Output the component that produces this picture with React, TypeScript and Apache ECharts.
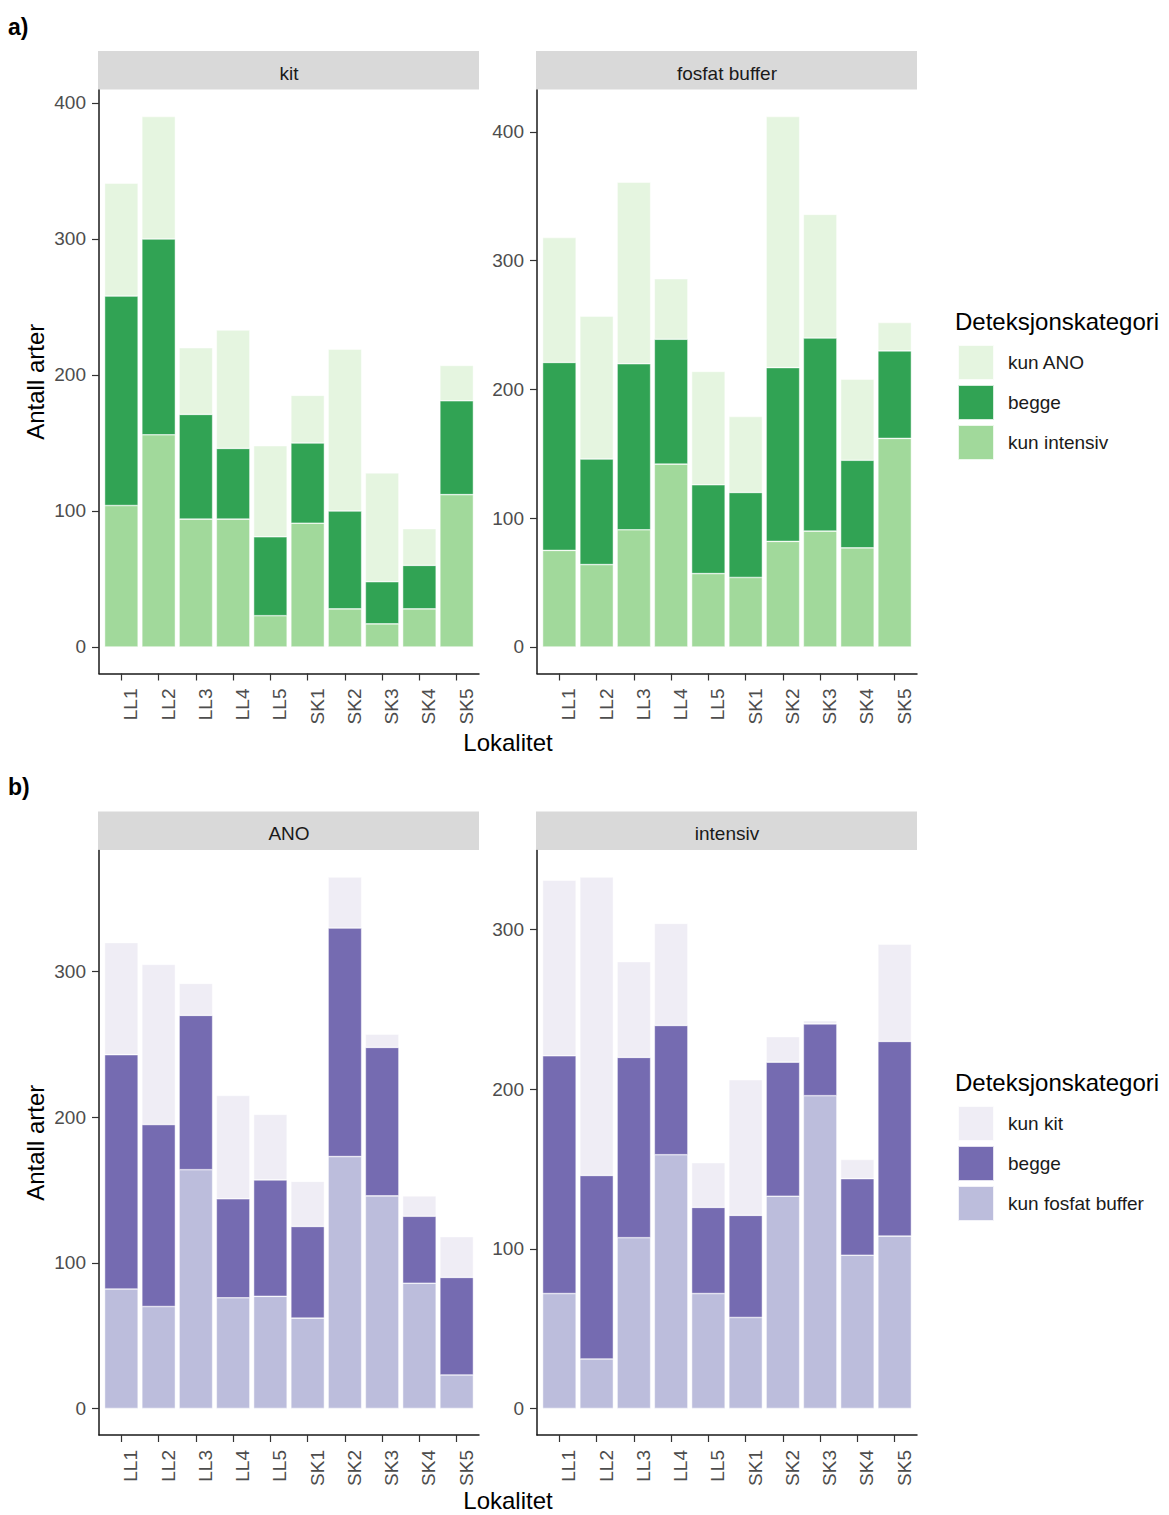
import React, { useEffect, useRef } from "react";
import * as echarts from "echarts";

// Sampling sites (x categories), shared by all four panels
const locations = ["LL1", "LL2", "LL3", "LL4", "LL5", "SK1", "SK2", "SK3", "SK4", "SK5"];

// a) kit panel
const kitKunIntensiv = [104, 156, 94, 94, 23, 91, 28, 17, 28, 112];
const kitBegge = [154, 144, 77, 52, 58, 59, 72, 31, 32, 69];
const kitKunAno = [83, 90, 49, 87, 67, 35, 119, 80, 27, 26];

// a) fosfat buffer panel
const fosfatKunIntensiv = [75, 64, 91, 142, 57, 54, 82, 90, 77, 162];
const fosfatBegge = [146, 82, 129, 97, 69, 66, 135, 150, 68, 68];
const fosfatKunAno = [97, 111, 141, 47, 88, 59, 195, 96, 63, 22];

// b) ANO panel
const anoKunFosfat = [82, 70, 164, 76, 77, 62, 173, 146, 86, 23];
const anoBegge = [161, 125, 106, 68, 80, 63, 157, 102, 46, 67];
const anoKunKit = [77, 110, 22, 71, 45, 31, 35, 9, 14, 28];

// b) intensiv panel
const intensivKunFosfat = [72, 31, 107, 159, 72, 57, 133, 196, 96, 108];
const intensivBegge = [149, 115, 113, 81, 54, 64, 84, 45, 48, 122];
const intensivKunKit = [110, 187, 60, 64, 28, 85, 16, 2, 12, 61];

// y tick labels
const yTicksA = [0, 100, 200, 300, 400];
const yTicksB = [0, 100, 200, 300];

// legend entries (top to bottom)
const legendA = ["kun ANO", "begge", "kun intensiv"];
const legendB = ["kun kit", "begge", "kun fosfat buffer"];

const GREENS = { top: "#e5f5e0", mid: "#31a354", base: "#a1d99b" };
const PURPLES = { top: "#efedf5", mid: "#756bb1", base: "#bcbddc" };

const FONT = '"Liberation Sans", Arial, Helvetica, sans-serif';
const W = 1169;
const H = 1515;

type Layer = { label: string; values: number[]; color: string };
type Panel = {
  title: string;
  row: string;
  left: number;
  top: number;
  width: number;
  height: number;
  yTicks: number[];
  layers: Layer[]; // bottom to top
};

const panels: Panel[] = [
  {
    title: "kit", row: "a", left: 99, top: 90, width: 380, height: 583.5, yTicks: yTicksA,
    layers: [
      { label: "kun intensiv", values: kitKunIntensiv, color: GREENS.base },
      { label: "begge", values: kitBegge, color: GREENS.mid },
      { label: "kun ANO", values: kitKunAno, color: GREENS.top },
    ],
  },
  {
    title: "fosfat buffer", row: "a", left: 537, top: 90, width: 380, height: 583.5, yTicks: yTicksA,
    layers: [
      { label: "kun intensiv", values: fosfatKunIntensiv, color: GREENS.base },
      { label: "begge", values: fosfatBegge, color: GREENS.mid },
      { label: "kun ANO", values: fosfatKunAno, color: GREENS.top },
    ],
  },
  {
    title: "ANO", row: "b", left: 99, top: 850.5, width: 380, height: 584.5, yTicks: yTicksB,
    layers: [
      { label: "kun fosfat buffer", values: anoKunFosfat, color: PURPLES.base },
      { label: "begge", values: anoBegge, color: PURPLES.mid },
      { label: "kun kit", values: anoKunKit, color: PURPLES.top },
    ],
  },
  {
    title: "intensiv", row: "b", left: 537, top: 850.5, width: 380, height: 584.5, yTicks: yTicksB,
    layers: [
      { label: "kun fosfat buffer", values: intensivKunFosfat, color: PURPLES.base },
      { label: "begge", values: intensivBegge, color: PURPLES.mid },
      { label: "kun kit", values: intensivKunKit, color: PURPLES.top },
    ],
  },
];

// discrete-axis padding of 0.6 category on both ends
const PAD = 0.6;

function buildOption() {
  const grid: any[] = [];
  const xAxis: any[] = [];
  const yAxis: any[] = [];
  const series: any[] = [];
  const graphic: any[] = [];
  const positions = locations.map((_, i) => i + 1);

  panels.forEach((p, i) => {
    const n = locations.length;
    const band = p.width / (n - 1 + 2 * PAD);
    const totals = locations.map((_, k) => p.layers.reduce((s, l) => s + l.values[k], 0));
    const maxTotal = Math.max(...totals);
    const yMin = -0.05 * maxTotal;
    const yMax = 1.05 * maxTotal;

    // data grid: exactly n bands, inset so that the frame gets the extra padding
    const inset = (PAD - 0.5) * band;
    grid.push({ left: p.left + inset, top: p.top, width: n * band, height: p.height, containLabel: false });
    // frame grid: full panel, carries the visible axes
    grid.push({ left: p.left, top: p.top, width: p.width, height: p.height, containLabel: false });

    const dataIdx = 2 * i;
    const frameIdx = 2 * i + 1;

    xAxis.push({ type: "category", gridIndex: dataIdx, data: locations, show: false, boundaryGap: true });
    yAxis.push({ type: "value", gridIndex: dataIdx, min: yMin, max: yMax, show: false });

    xAxis.push({
      type: "value",
      gridIndex: frameIdx,
      min: 1 - PAD,
      max: n + PAD,
      splitLine: { show: false },
      axisLine: { show: true, onZero: false, lineStyle: { color: "#1a1a1a", width: 1.5 } },
      axisTick: { show: true, customValues: positions, length: 7, lineStyle: { color: "#333333", width: 1.2 } },
      axisLabel: {
        customValues: positions,
        formatter: (v: number) => locations[Math.round(v) - 1] ?? "",
        rotate: 90,
        margin: 15,
        verticalAlign: "top",
        fontSize: 19,
        color: "#4d4d4d",
        fontFamily: FONT,
      },
    });
    yAxis.push({
      type: "value",
      gridIndex: frameIdx,
      min: yMin,
      max: yMax,
      splitLine: { show: false },
      axisLine: { show: true, onZero: false, lineStyle: { color: "#1a1a1a", width: 1.5 } },
      axisTick: { show: true, customValues: p.yTicks, length: 7, lineStyle: { color: "#333333", width: 1.2 } },
      axisLabel: {
        customValues: p.yTicks,
        margin: 13,
        fontSize: 19,
        color: "#4d4d4d",
        fontFamily: FONT,
      },
    });

    p.layers.forEach((l) => {
      series.push({
        type: "bar",
        name: `${p.row}|${l.label}`,
        xAxisIndex: dataIdx,
        yAxisIndex: dataIdx,
        stack: `panel${i}`,
        barWidth: "90%",
        silent: true,
        data: l.values,
        itemStyle: { color: l.color, borderColor: "rgba(255,255,255,0.8)", borderWidth: 0.6 },
      });
    });

    // facet strip
    graphic.push({
      type: "rect",
      shape: { x: p.left - 1, y: p.top - 39, width: p.width + 1, height: 38.5 },
      style: { fill: "#d9d9d9" },
      silent: true,
    });
    graphic.push({
      type: "text",
      x: p.left + p.width / 2,
      y: p.top - 17,
      style: { text: p.title, fontSize: 19, fill: "#1a1a1a", fontFamily: FONT, align: "center", verticalAlign: "middle" },
      silent: true,
    });
  });

  const rows = [
    { tag: "a)", tagY: 27, top: panels[0].top, height: panels[0].height, xTitleY: 742, legendTitleY: 321 },
    { tag: "b)", tagY: 787, top: panels[2].top, height: panels[2].height, xTitleY: 1500, legendTitleY: 1082 },
  ];
  rows.forEach((r) => {
    graphic.push({
      type: "text",
      x: 8,
      y: r.tagY,
      style: { text: r.tag, fontSize: 23, fontWeight: "bold", fill: "#000", fontFamily: FONT, verticalAlign: "middle" },
      silent: true,
    });
    graphic.push({
      type: "text",
      x: 35,
      y: r.top + r.height / 2,
      rotation: Math.PI / 2,
      style: { text: "Antall arter", fontSize: 24, fill: "#000", fontFamily: FONT, align: "center", verticalAlign: "middle" },
      silent: true,
    });
    graphic.push({
      type: "text",
      x: (panels[0].left + panels[1].left + panels[1].width) / 2,
      y: r.xTitleY,
      style: { text: "Lokalitet", fontSize: 24, fill: "#000", fontFamily: FONT, align: "center", verticalAlign: "middle" },
      silent: true,
    });
    graphic.push({
      type: "text",
      x: 955,
      y: r.legendTitleY,
      style: { text: "Deteksjonskategori", fontSize: 24, fill: "#000", fontFamily: FONT, verticalAlign: "middle" },
      silent: true,
    });
  });

  const legendBase = {
    orient: "vertical",
    left: 957,
    padding: 0,
    itemWidth: 36,
    itemHeight: 35,
    itemGap: 3,
    icon: "rect",
    selectedMode: false,
    formatter: (name: string) => name.split("|")[1],
    textStyle: { fontSize: 19, color: "#1a1a1a", fontFamily: FONT, padding: [0, 0, 0, 9] },
  };

  return {
    animation: false,
    backgroundColor: "#ffffff",
    textStyle: { fontFamily: FONT },
    grid,
    xAxis,
    yAxis,
    series,
    legend: [
      { ...legendBase, top: 344, data: legendA.map((s) => `a|${s}`) },
      { ...legendBase, top: 1105, data: legendB.map((s) => `b|${s}`) },
    ],
    graphic,
  };
}

export default function App() {
  const ref = useRef<HTMLDivElement>(null);

  useEffect(() => {
    document.body.style.margin = "0";
    if (!ref.current) return;
    const chart = echarts.init(ref.current, undefined, { renderer: "svg", width: W, height: H });
    chart.setOption(buildOption() as any);
    return () => {
      chart.dispose();
    };
  }, []);

  return <div ref={ref} style={{ width: W, height: H, background: "#fff" }} />;
}
